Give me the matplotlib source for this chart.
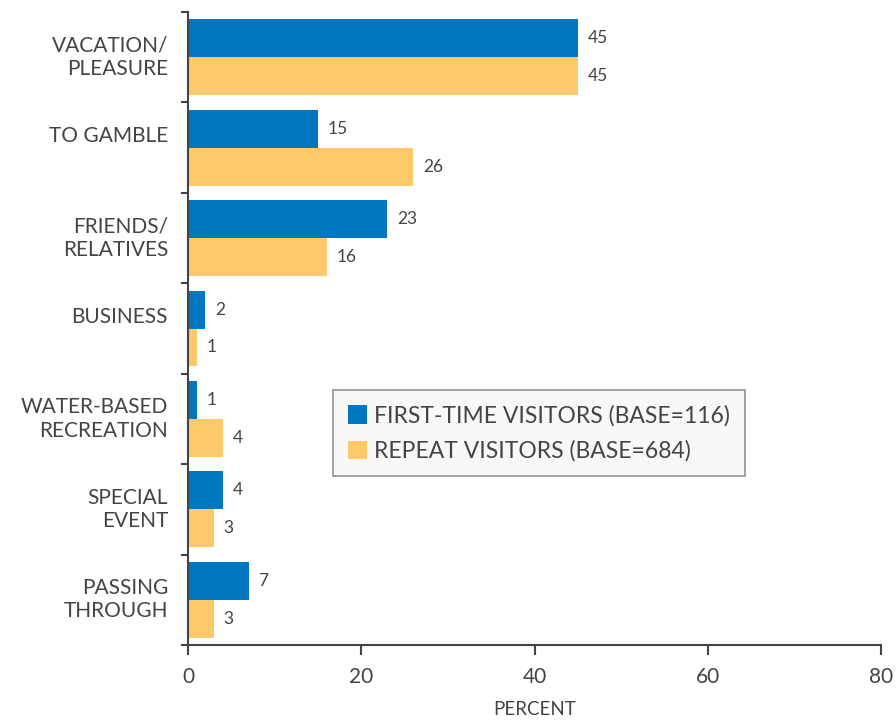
import matplotlib
matplotlib.use("Agg")
import matplotlib.pyplot as plt
import matplotlib.transforms as mtransforms
import numpy as np

plt.rcParams['font.family'] = ['Lato', 'DejaVu Sans']

categories = ["VACATION/\nPLEASURE", "TO GAMBLE", "FRIENDS/\nRELATIVES", "BUSINESS",
              "WATER-BASED\nRECREATION", "SPECIAL\nEVENT", "PASSING\nTHROUGH"]
first_time = [45, 15, 23, 2, 1, 4, 7]
repeat = [45, 26, 16, 1, 4, 3, 3]
series_names = ["FIRST-TIME VISITORS (BASE=116)", "REPEAT VISITORS (BASE=684)"]
x_ticks = [0, 20, 40, 60, 80]

BLUE = "#0077be"
GOLD = "#fdc96b"
TEXT = "#444444"
SPINE = "#444444"

fig = plt.figure(figsize=(8.96, 7.21), dpi=100)
ax = fig.add_axes([188/896, 76/721, 693/896, 633/721])

n = len(categories)
y = np.arange(n)
h = 0.42
b1 = ax.barh(y - h/2, first_time, height=h, color=BLUE, label=series_names[0])
b2 = ax.barh(y + h/2, repeat, height=h, color=GOLD, label=series_names[1])

for bars, vals in ((b1, first_time), (b2, repeat)):
    for bar, v in zip(bars, vals):
        ax.annotate(f"{v}", (bar.get_width(), bar.get_y() + bar.get_height()/2),
                    xytext=(7, 0), textcoords="offset points", va="center", ha="left",
                    fontsize=12.5, color=TEXT)

ax.set_ylim(n - 0.5, -0.5)
ax.set_xlim(0, 80)

# category labels: one-line labels sit a little above the group centre
label_tf = mtransforms.blended_transform_factory(ax.transAxes, ax.transData)
for yi, cat in zip(y, categories):
    lift = 0 if "\n" in cat else 12
    tf = label_tf + mtransforms.ScaledTranslation(-20/100, lift/100, fig.dpi_scale_trans)
    ax.text(0, yi, cat, transform=tf, ha="right", va="center", multialignment="right",
            fontsize=15, color=TEXT, linespacing=1.2)

ax.set_yticks(y)
ax.set_yticklabels([])
ax.tick_params(axis="y", which="major", length=0)
ax.set_yticks(np.arange(-0.5, n, 1.0), minor=True)
ax.tick_params(axis="y", which="minor", length=5, width=1.5, color=SPINE, direction="out")

ax.set_xticks(x_ticks)
ax.set_xticklabels([str(t) for t in x_ticks], fontsize=15, color=TEXT)
ax.tick_params(axis="x", length=7, width=1.5, color=SPINE, pad=9)
ax.set_xlabel("PERCENT", fontsize=13.5, color=TEXT, labelpad=10)

for side in ("top", "right"):
    ax.spines[side].set_visible(False)
for side in ("left", "bottom"):
    ax.spines[side].set_color(SPINE)
    ax.spines[side].set_linewidth(1.5)

leg = ax.legend(loc="upper left", bbox_to_anchor=(0.209, 0.403), borderaxespad=0,
                fontsize=16.5, frameon=True, fancybox=False, handlelength=0.85,
                handleheight=0.85, handletextpad=0.3, labelspacing=0.6,
                borderpad=0.65, labelcolor=TEXT)
leg.get_frame().set_facecolor("#f7f7f7")
leg.get_frame().set_edgecolor("#777777")
leg.get_frame().set_linewidth(1.2)

fig.savefig("out.png", dpi=100)
